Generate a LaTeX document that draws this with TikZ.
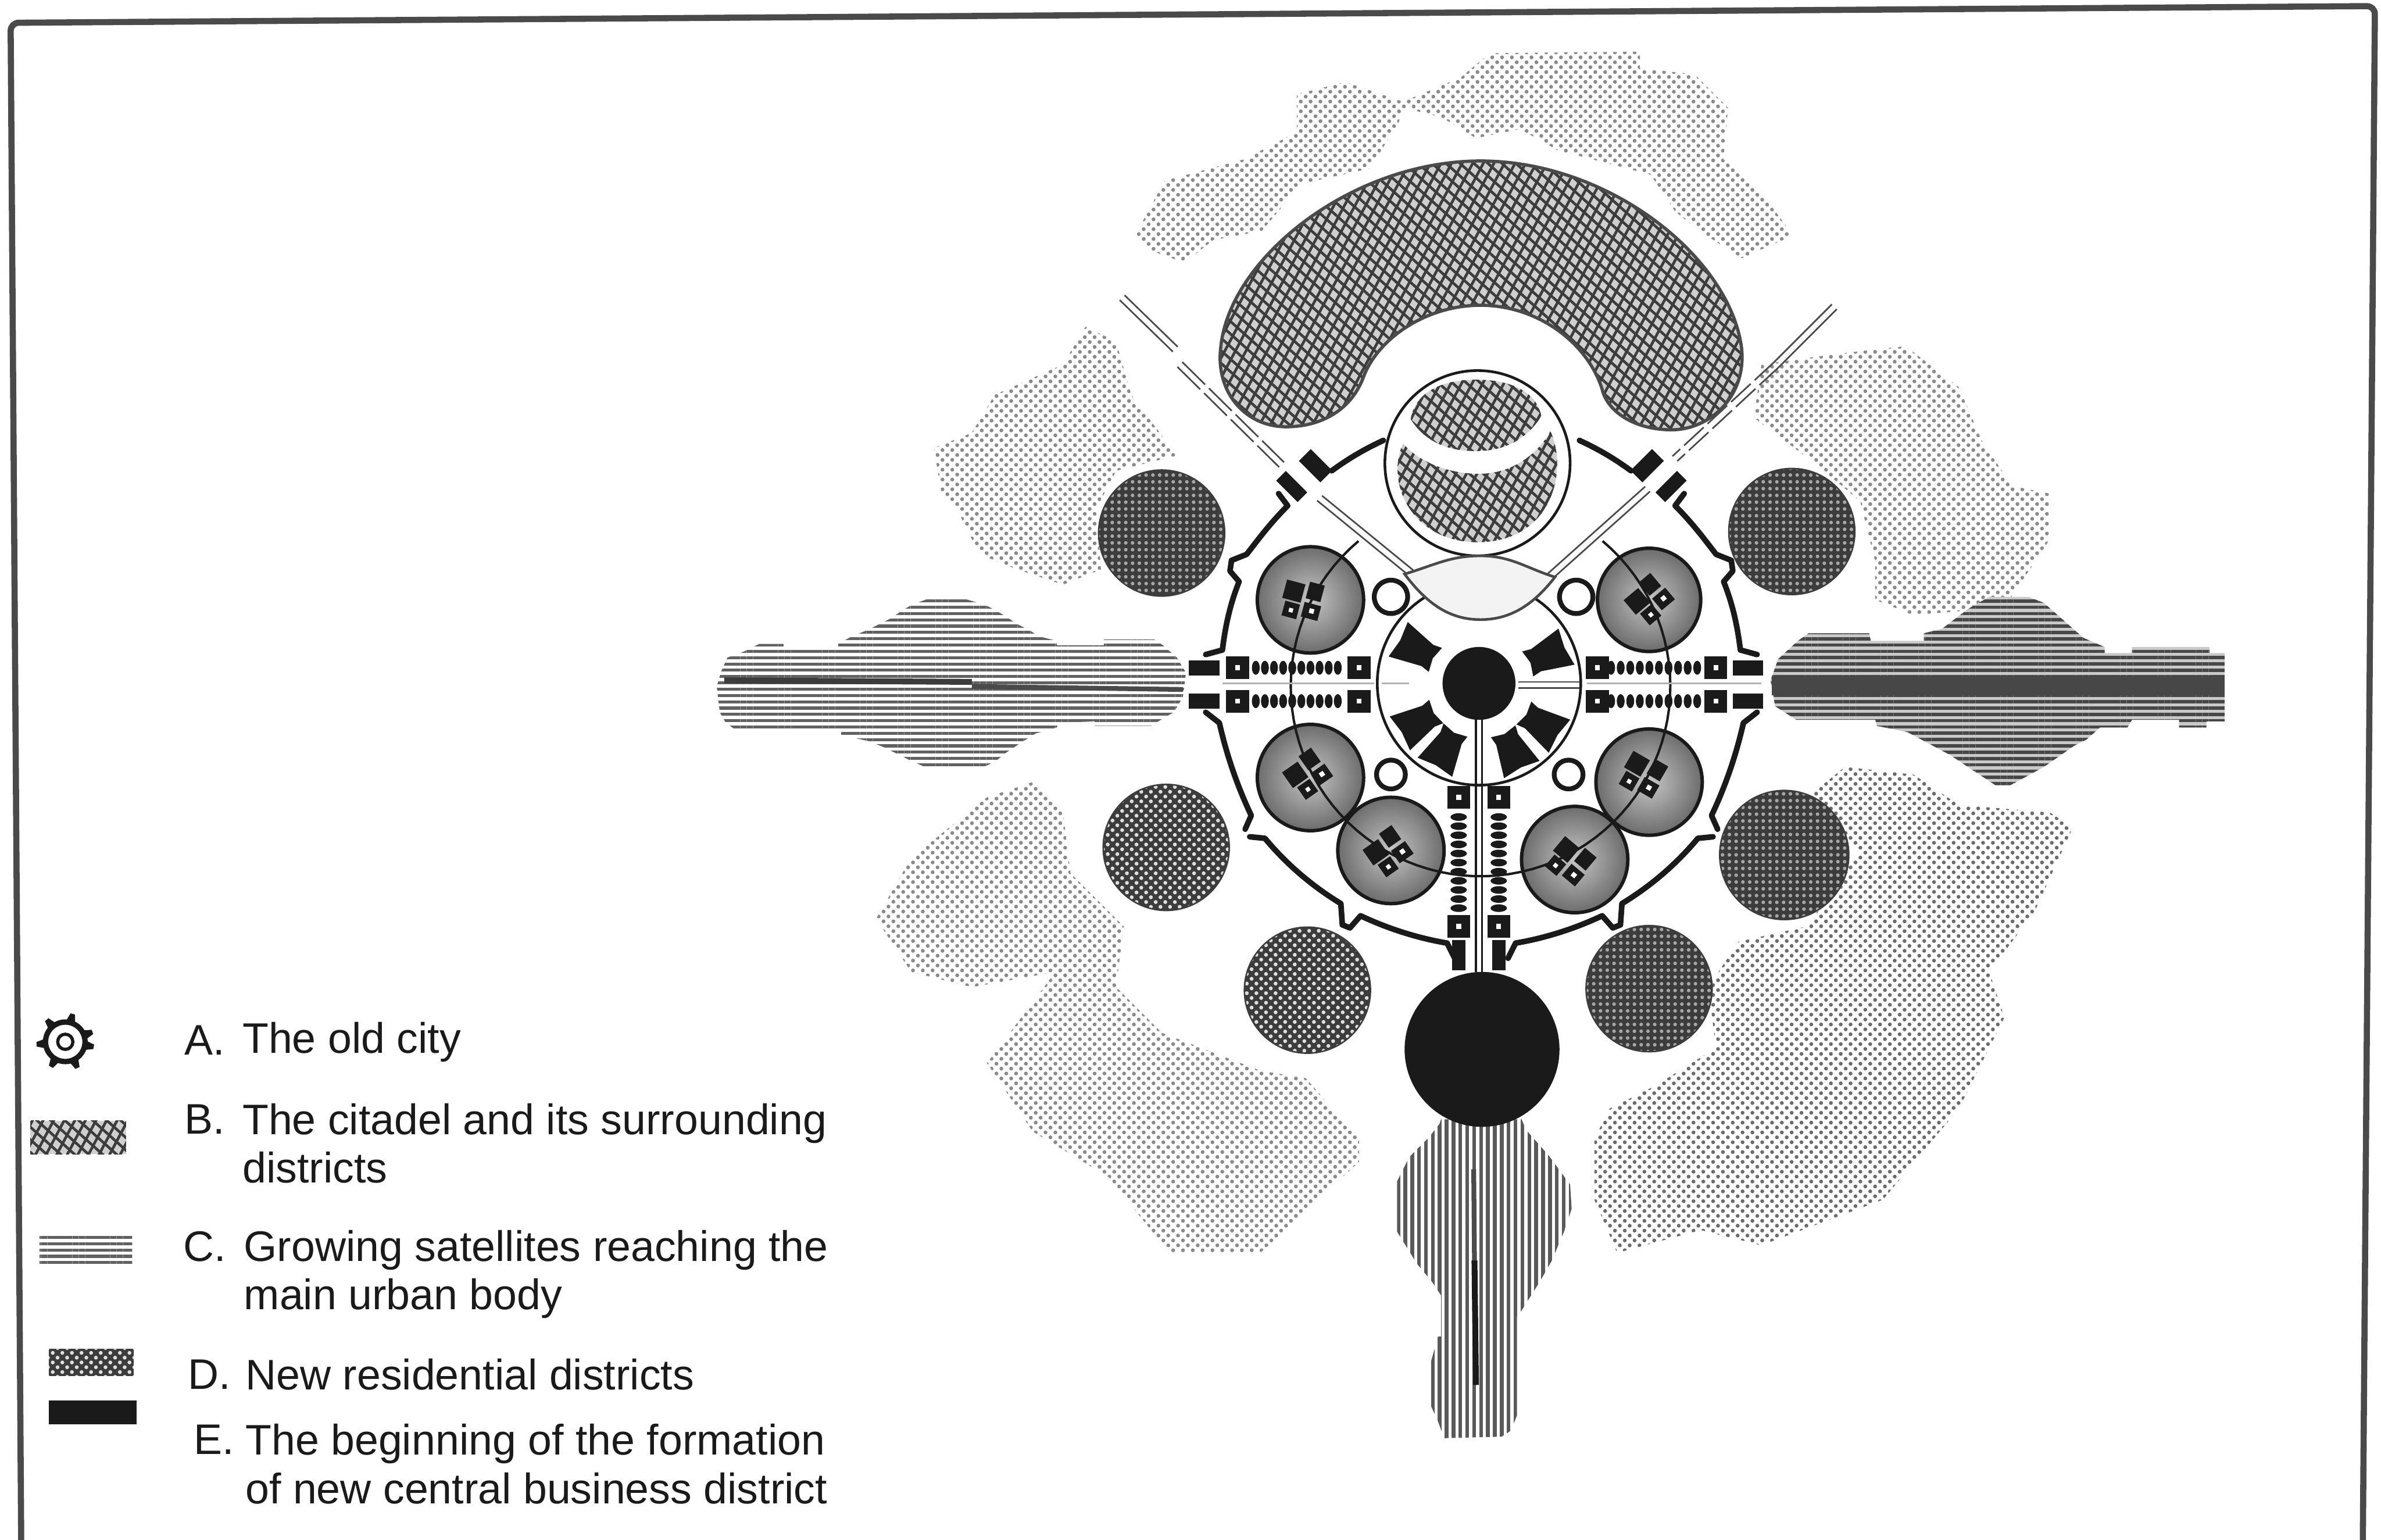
\documentclass[tikz,border=0pt]{standalone}
\usepackage{fontspec}
\setmainfont{Liberation Sans}
\usetikzlibrary{patterns.meta}
\definecolor{ink}{HTML}{1A1A1A}
\definecolor{inkgray}{HTML}{4A4A4A}
\definecolor{dotgray}{HTML}{8A8A8A}
\definecolor{meshgray}{HTML}{3C3C3C}
\definecolor{palegray}{HTML}{F3F3F3}
\tikzset{
  framelne/.style={draw=inkgray,line width=1.15pt,rounded corners=1.5pt},
  walllne/.style={draw=ink,line width=1.05pt,line cap=round,line join=round},
  thinlne/.style={draw=ink,line width=0.35pt},
  roadlne/.style={draw=inkgray,line width=0.3pt},
  ringlne/.style={draw=ink,line width=0.85pt},
  dotzone/.style={pattern={Dots[distance=1.3pt,radius=0.36pt,angle=45]},pattern color=dotgray},
  linezone/.style={pattern={Lines[angle=0,distance=1.18pt,line width=0.56pt]},pattern color=black!62},
  darkzone/.style={pattern={Lines[angle=0,distance=1.18pt,line width=0.62pt]},pattern color=black!72},
  barzone/.style={pattern={Lines[angle=90,distance=1.29pt,line width=0.7pt]},pattern color=black!65},
  meshone/.style={pattern={Lines[angle=62,distance=1.75pt,line width=0.5pt]},pattern color=meshgray},
  meshtwo/.style={pattern={Lines[angle=-42,distance=1.75pt,line width=0.5pt]},pattern color=meshgray},
  gridhole/.style={pattern={Dots[distance=1.27pt,radius=0.34pt]},pattern color=gray!70},
  diaghole/.style={pattern={Dots[distance=1.27pt,radius=0.36pt,angle=45]},pattern color=gray!25},
  legtext/.style={anchor=west,align=left,inner sep=0pt,text=ink,font=\fontsize{8}{9.07}\selectfont}
}
\newcommand{\kidneypath}{(804,228) .. controls (810,170) and (890,106) .. (975,106) .. controls (1060,106) and (1140,170) .. (1147,230) .. controls (1150,262) and (1125,283) .. (1101,283) .. controls (1075,283) and (1058,270) .. (1055,256) .. controls (1045,225) and (1012,201) .. (975,201) .. controls (940,201) and (908,222) .. (898,248) .. controls (890,270) and (870,281) .. (847,281) .. controls (820,281) and (800,258) .. (804,228) -- cycle}
\newcommand{\capblob}{(929,276) .. controls (932,258) and (950,250) .. (972,250) .. controls (995,250) and (1012,258) .. (1015,274) .. controls (1005,290) and (990,297) .. (972,297) .. controls (952,297) and (938,290) .. (929,276) -- cycle}
\newcommand{\cupblob}{(924,292) .. controls (935,305) and (955,312) .. (974,312) .. controls (995,312) and (1012,300) .. (1021,284) .. controls (1033,310) and (1022,357) .. (973,357) .. controls (930,357) and (912,318) .. (924,292) -- cycle}
\newcommand{\eastzone}{(1166,448) -- (1171,434) -- (1184,422) -- (1191,417) -- (1231,417) -- (1232,422) -- (1267,422) -- (1267,417) -- (1279,414) -- (1296,401) -- (1310,393) -- (1336,393) -- (1346,397) -- (1372,420) -- (1386,426) -- (1386,430) -- (1404,430) -- (1404,426) -- (1455,426) -- (1455,430) -- (1465,430) -- (1465,475) -- (1453,475) -- (1453,479) -- (1435,479) -- (1435,474) -- (1404,474) -- (1401,479) -- (1383,479) -- (1374,487) -- (1366,491) -- (1346,505) -- (1324,517) -- (1314,517) -- (1284,497) -- (1256,482) -- (1236,478) -- (1235,474) -- (1183,474) -- (1169,465) -- cycle}
\newcommand{\gatebox}[2]{
  \fill[ink] (#1-7.5,#2-7.5) rectangle (#1+7.5,#2+7.5);
  \fill[white] (#1-1.6,#2-1.6) rectangle (#1+1.6,#2+1.6);
}
\newcommand{\satcore}[3]{
  \begin{scope}[shift={(#1,#2)},rotate=#3,scale=1.25]
    \fill[ink] (-11,-9) rectangle (-1,1);
    \fill[ink] (1,-11) rectangle (9,-2);
    \fill[ink] (-9,2) rectangle (-1,10);
    \fill[ink] (1,0) rectangle (10,8);
    \fill[white] (4.5,2.5) rectangle (7,5);
    \fill[white] (-6,5) rectangle (-3.8,7.2);
  \end{scope}
}
\newcommand{\wallhalf}{
  \draw[walllne] (842,325) -- (848,333) .. controls (836,345) and (828,356) .. (821,365) -- (811,369) -- (810,376) -- (816,383)
    .. controls (810,398) and (807,412) .. (805,428) -- (794,431);
  \draw[walllne] (794,469) -- (803,476) .. controls (808,498) and (815,518) .. (824,537) -- (820,546);
  \draw[walllne] (823,551) -- (833,552) .. controls (848,570) and (865,584) .. (883,595) -- (884,609) -- (889,611) -- (896,603)
    .. controls (915,612) and (935,618) .. (953,621) -- (958,631);
  \draw[walllne] (911,290) .. controls (898,296) and (888,302) .. (877,310);
  \fill[ink,rotate around={-45:(866,307)}] (856,301) rectangle (876,312);
  \fill[ink,rotate around={-45:(851,320)}] (841,316) rectangle (861,325);
}

\begin{document}
\begin{tikzpicture}[x=0.01cm,y=-0.01cm]
  \useasboundingbox (0,0) rectangle (1568,1014);
  \draw[framelne] (14,1020) -- (7,15) -- (1564,4) -- (1556,1020);

  % dotted growth around the city
  \fill[dotzone] (748,154) -- (767,119) -- (819,105) -- (854,87) -- (854,62) -- (886,54) -- (924,67) -- (962,51) -- (981,35) -- (1080,34) -- (1080,45) -- (1116,49) -- (1138,71) -- (1135,105) -- (1160,127) -- (1181,155) -- (1147,170) -- (1119,152) -- (1103,139) -- (1087,115) -- (1026,99) -- (1001,85) -- (972,91) -- (949,77) -- (924,71) -- (921,81) -- (902,111) -- (857,121) -- (831,152) -- (799,158) -- (780,173) -- (758,165) -- cycle;
  \fill[dotzone] (615,295) -- (640,285) -- (655,260) -- (700,240) -- (715,215) -- (735,225) -- (745,260) -- (775,300) -- (735,310) -- (722,335) -- (725,375) -- (700,385) -- (670,375) -- (645,365) -- (630,335) -- (620,325) -- cycle;
  \fill[dotzone] (1160,240) -- (1195,235) -- (1235,230) -- (1255,228) -- (1290,255) -- (1305,290) -- (1325,320) -- (1350,325) -- (1350,355) -- (1320,400) -- (1260,405) -- (1235,395) -- (1235,370) -- (1225,330) -- (1195,305) -- (1175,290) -- (1155,275) -- cycle;
  \fill[dotzone] (577,605) -- (600,565) -- (650,525) -- (680,515) -- (700,535) -- (705,575) -- (740,610) -- (735,650) -- (765,680) -- (830,705) -- (860,710) -- (895,750) -- (895,765) -- (830,825) -- (770,825) -- (730,775) -- (680,745) -- (650,700) -- (695,640) -- (640,650) -- (600,640) -- cycle;
  \fill[dotzone,pattern color=black!58] (1215,505) -- (1260,510) -- (1290,530) -- (1350,535) -- (1365,545) -- (1340,600) -- (1310,640) -- (1320,670) -- (1290,730) -- (1240,790) -- (1160,820) -- (1120,810) -- (1065,825) -- (1050,790) -- (1050,750) -- (1060,730) -- (1090,715) -- (1130,690) -- (1125,650) -- (1145,620) -- (1190,610) -- (1225,560) -- (1190,525) -- cycle;

  % satellites on the three axes
  \fill[linezone] (472,452) -- (475,442) -- (479,433) -- (490,429) -- (500,424) -- (516,424) -- (516,428) -- (552,428) -- (552,424) -- (561,419) -- (571,415) -- (579,411) -- (587,407) -- (594,402) -- (601,398) -- (612,394) -- (634,394) -- (648,398) -- (656,402) -- (664,407) -- (670,411) -- (678,415) -- (684,419) -- (696,422) -- (696,425) -- (727,425) -- (727,421) -- (760,421) -- (766,425) -- (775,433) -- (781,443) -- (779,459) -- (773,469) -- (766,473) -- (758,478) -- (721,478) -- (721,475) -- (697,476) -- (696,479) -- (682,483) -- (674,488) -- (668,492) -- (662,496) -- (656,501) -- (648,505) -- (609,505) -- (600,501) -- (590,496) -- (582,492) -- (572,488) -- (554,484) -- (554,481) -- (485,481) -- (478,476) -- (474,469) -- cycle;
  \draw[draw=ink!85,line width=1.1pt] (477,448) -- (640,449);
  \draw[draw=inkgray,line width=0.9pt] (640,452) -- (779,454);
  \fill[gray!42] \eastzone;
  \fill[darkzone] \eastzone;
  \draw[draw=black!72,line width=3.6pt] (1167,451.5) -- (1465,451.5);
  \fill[barzone] (949,737) -- (1002,737) -- (1005,744) -- (1020,761) -- (1034,780) -- (1035,796) -- (1030,811) -- (1022,830) -- (1014,844) -- (1002,863) -- (999,867) -- (999,932) -- (995,942) -- (989,946) -- (951,947) -- (947,936) -- (942,925) -- (942,898) -- (947,880) -- (949,880) -- (949,853) -- (943,844) -- (933,832) -- (925,819) -- (920,811) -- (920,778) -- (928,762) -- (941,749) -- (948,740) -- cycle;
  \draw[draw=ink,line width=1.1pt] (971,830) -- (972,912);
  \draw[draw=inkgray,line width=0.9pt] (970.5,770) -- (971,830);

  % citadel crescent
  \fill[gray!38] \kidneypath;
  \fill[meshone] \kidneypath;
  \fill[meshtwo] \kidneypath;
  \draw[draw=inkgray,line width=0.6pt] \kidneypath;

  % roads to the citadel
  \foreach \d in {-1.6,1.6}{
    \draw[roadlne] (739+\d,196-\d) -- (774+\d,230-\d);
    \draw[roadlne,dash pattern=on 6pt off 1pt] (777+\d,240-\d) -- (844+\d,306-\d);
    \draw[roadlne] (869+\d,328-\d) -- (929+\d,377-\d);
    \draw[roadlne] (1208-\d,202-\d) -- (1170-\d,240-\d);
    \draw[roadlne,dash pattern=on 5pt off 1pt] (1170-\d,240-\d) -- (1103-\d,302-\d);
    \draw[roadlne] (1085-\d,322-\d) -- (1019-\d,381-\d);
  }

  % citadel circle
  \draw[ringlne,line width=0.5pt,fill=white] (973,305) circle[radius=61];
  \fill[gray!38] \capblob;
  \fill[meshone] \capblob;
  \fill[meshtwo] \capblob;
  \fill[gray!38] \cupblob;
  \fill[meshone] \cupblob;
  \fill[meshtwo] \cupblob;

  % old city wall
  \wallhalf
  \begin{scope}[xshift=19.5cm,xscale=-1]
    \wallhalf
  \end{scope}

  % inner city
  \draw[thinlne,line width=0.5pt] (974,450) circle[radius=67];
  \draw[draw=inkgray,line width=0.5pt,fill=palegray] (925,378) .. controls (945,372) and (955,366) .. (975,366) .. controls (995,366) and (1005,374) .. (1024,380) .. controls (1010,398) and (995,408) .. (975,408) .. controls (955,408) and (940,398) .. (925,378) -- cycle;
  \fill[ink] (974,450) circle[radius=24];
  \foreach \a in {151,24,211,241,296,327}{
    \fill[ink,shift={(975,451)},rotate=\a] (34,-9) -- (36,0) -- (34,9) -- (40,8) -- (62,13) -- (60.5,0) -- (62,-13) -- (40,-8) -- cycle;
  }

  % residential districts
  \foreach \x/\y/\r in {765/351/42,1180/350/42,1175/563/43,1086/651/42}{
    \fill[ink!85] (\x,\y) circle[radius=\r];
    \fill[gridhole] (\x,\y) circle[radius=\r-1];
  }
  \foreach \x/\y/\r in {768/558/42,861/652/42}{
    \fill[ink!85] (\x,\y) circle[radius=\r];
    \fill[diaghole] (\x,\y) circle[radius=\r-1];
  }
  \fill[ink] (976,691) circle[radius=51];

  % inner satellites and the ring through them
  \foreach \x/\y/\r in {863/395/35,1086/395/34,863/512/35,1086/515/35,916/560/35,1037/566/35}{
    \shade[inner color=gray!45,outer color=gray!85!black] (\x,\y) circle[radius=\r];
    \draw[thinlne,line width=0.65pt] (\x,\y) circle[radius=\r];
  }
  \satcore{858}{396}{-15}
  \satcore{1087}{395}{40}
  \satcore{862}{510}{35}
  \satcore{915}{561}{35}
  \satcore{1082}{511}{-30}
  \satcore{1034}{568}{-40}
  \draw[thinlne,line width=0.45pt,domain=310:590,samples=80] plot ({975+125*cos(\x)},{452+125*sin(\x)});
  \foreach \x/\y/\r in {916/393/11,1038/393/11,916/510/9.5,1033/510/9.5}{
    \draw[ringlne,line width=0.9pt,fill=white] (\x,\y) circle[radius=\r];
  }

  % avenues
  \foreach \y in {439.7,461.7}{
    \gatebox{815}{\y}
    \gatebox{895}{\y}
    \gatebox{1052}{\y}
    \gatebox{1130}{\y}
    \fill[ink] (783,\y-5) rectangle (803,\y+5);
    \fill[ink] (1141,\y-5) rectangle (1161,\y+5);
    \foreach \i in {0,...,9}{
      \fill[ink] (827+6*\i,\y) ellipse (2.6 and 4.6);
      \fill[ink] (1061+6.3*\i,\y) ellipse (2.6 and 4.6);
    }
  }
  \foreach \x in {960.6,987}{
    \gatebox{\x}{525}
    \gatebox{\x}{610}
    \fill[ink] (\x-4.5,619) rectangle (\x+4.5,639);
    \foreach \i in {0,...,10}{
      \fill[ink] (\x,538+6*\i) ellipse (5.4 and 2.5);
    }
  }
  \draw[thinlne] (972,474) -- (972,640);
  \draw[thinlne] (976,474) -- (976,640);
  \draw[roadlne] (1000,449) -- (1040,449);
  \draw[roadlne] (1000,453) -- (1040,453);
  \draw[draw=gray!60,line width=0.3pt] (910,450) -- (928,450);
  \draw[draw=gray!60,line width=0.3pt] (805,450) -- (905,450);
  \draw[draw=gray!60,line width=0.3pt] (1045,450) -- (1160,450);

  % legend symbols
  \draw[ringlne,line width=1pt] (43,686) circle[radius=13];
  \foreach \a in {20,75,130,185,240,295,350}{
    \fill[ink,shift={(43,686)},rotate=\a] (12,-3.5) -- (19,-1.5) -- (19,1.5) -- (12,3.5) -- cycle;
  }
  \draw[ringlne,line width=0.6pt] (43,686) circle[radius=5];
  \fill[gray!38] (20,738) rectangle (83,760);
  \fill[meshone] (20,738) rectangle (83,760);
  \fill[meshtwo] (20,738) rectangle (83,760);
  \fill[linezone] (26,814) rectangle (87,834);
  \fill[ink!85] (32,888) rectangle (88,906);
  \fill[diaghole] (32,888) rectangle (88,906);
  \fill[ink] (32,922) rectangle (90,938);

  % legend texts
  \node[legtext] (letterA) at (121,685) {A.};
  \node[legtext] (labelA) at (159,686) {The old city};
  \node[legtext] (letterB) at (121,737) {B.};
  \node[legtext] (labelB) at (159,753) {The citadel and its surrounding\\districts};
  \node[legtext] (letterC) at (120,821) {C.};
  \node[legtext] (labelC) at (160,839) {Growing satellites reaching the\\main urban body};
  \node[legtext] (letterD) at (123,905) {D.};
  \node[legtext] (labelD) at (161,905) {New residential districts};
  \node[legtext] (letterE) at (127,948) {E.};
  \node[legtext] (labelE) at (161,964) {The beginning of the formation\\of new central business district};
\end{tikzpicture}
\end{document}
